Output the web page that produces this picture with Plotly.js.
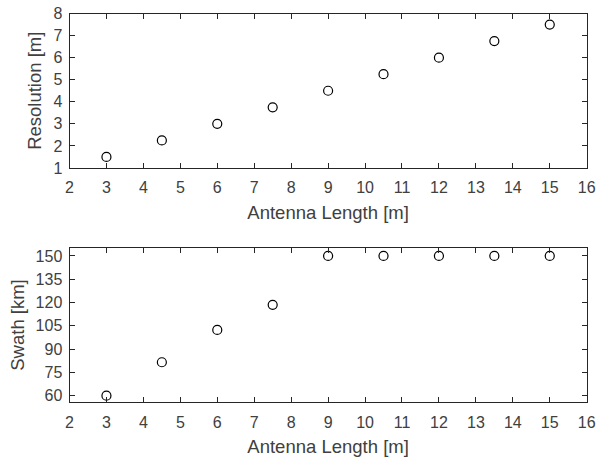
<!DOCTYPE html>
<html><head><meta charset="utf-8">
<script src="https://cdn.plot.ly/plotly-3.0.1.min.js"></script>
<style>html,body{margin:0;padding:0;background:#fff}</style>
</head><body>
<div id="chart" style="width:599px;height:460px"></div>
<script>
const antennaLength = [3, 4.5, 6, 7.5, 9, 10.5, 12, 13.5, 15];
const resolution = [1.5, 2.25, 3, 3.75, 4.5, 5.25, 6, 6.75, 7.5];
const swath = [60, 81.5, 102.3, 118.5, 150, 150, 150, 150, 150];

const marker = {symbol: 'circle-open', size: 9, color: '#000', line: {width: 1.2, color: '#000'}};
const traces = [
  {x: antennaLength, y: resolution, type: 'scatter', mode: 'markers', marker: marker, xaxis: 'x', yaxis: 'y', cliponaxis: false},
  {x: antennaLength, y: swath, type: 'scatter', mode: 'markers', marker: marker, xaxis: 'x2', yaxis: 'y2', cliponaxis: false}
];
const tickFont = {family: 'Liberation Sans, Arial, sans-serif', size: 16, color: '#404040'};
const titleFont = {family: 'Liberation Sans, Arial, sans-serif', size: 18.5, color: '#404040'};
const axBase = {
  showline: true, linecolor: '#262626', linewidth: 1, mirror: 'allticks',
  ticks: 'inside', ticklen: 5, tickcolor: '#262626', tickwidth: 1,
  showgrid: false, zeroline: false, tickfont: tickFont, fixedrange: true
};
const xdom = [69.5/599, 586.7/599];
const xExtra = {ticklabelstandoff: 5};
const yExtra = {ticklabelstandoff: 3};
const layout = {
  width: 599, height: 460,
  margin: {l: 0, r: 0, t: 0, b: 0},
  paper_bgcolor: '#fff', plot_bgcolor: '#fff',
  showlegend: false,
  xaxis: Object.assign({}, axBase, xExtra, {domain: xdom, anchor: 'y', range: [2, 16], dtick: 1, tick0: 2,
    title: {text: 'Antenna Length [m]', font: titleFont, standoff: 10}}),
  yaxis: Object.assign({}, axBase, yExtra, {domain: [1-168/460, 1-13.5/460], anchor: 'x', range: [1, 8], dtick: 1, tick0: 1,
    title: {text: 'Resolution [m]', font: titleFont, standoff: 6}}),
  xaxis2: Object.assign({}, axBase, xExtra, {domain: xdom, anchor: 'y2', range: [2, 16], dtick: 1, tick0: 2,
    title: {text: 'Antenna Length [m]', font: titleFont, standoff: 10}}),
  yaxis2: Object.assign({}, axBase, yExtra, {domain: [1-402.3/460, 1-247.7/460], anchor: 'x2', range: [55.7, 155.3], dtick: 15, tick0: 60,
    title: {text: 'Swath [km]', font: titleFont, standoff: 6}})
};
Plotly.newPlot('chart', traces, layout, {displayModeBar: false, staticPlot: true});
</script>
</body></html>
